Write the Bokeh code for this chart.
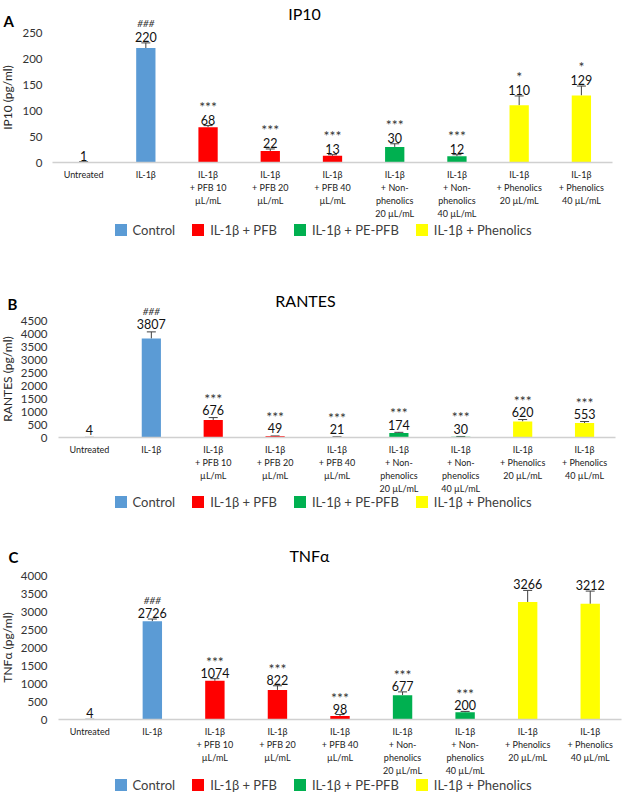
import math
from bokeh.plotting import figure
from bokeh.models import (ColumnDataSource, Range1d, FixedTicker, Whisker,
                          Label, Legend, LegendItem, TeeHead)
from bokeh.layouts import column
from bokeh.embed import file_html
from bokeh.resources import INLINE
from bokeh.core.properties import value

# ---------------- data ----------------
categories = [
    "Untreated",
    "IL-1β",
    "IL-1β\n+ PFB 10\nµL/mL",
    "IL-1β\n+ PFB 20\nµL/mL",
    "IL-1β\n+ PFB 40\nµL/mL",
    "IL-1β\n+ Non-\nphenolics\n20 µL/mL",
    "IL-1β\n+ Non-\nphenolics\n40 µL/mL",
    "IL-1β\n+ Phenolics\n20 µL/mL",
    "IL-1β\n+ Phenolics\n40 µL/mL",
]
group_of_bar = [0, 0, 1, 1, 1, 2, 2, 3, 3]
group_names = ["Control", "IL-1β + PFB", "IL-1β + PE-PFB", "IL-1β + Phenolics"]
group_colors = ["#5B9BD5", "#FF0000", "#00B050", "#FFFF00"]

ip10_values = [1, 220, 68, 22, 13, 30, 12, 110, 129]
ip10_errors = [0.5, 10, 3, 4, 2, 6, 3, 18, 18]
ip10_sig = ["", "###", "***", "***", "***", "***", "***", "*", "*"]
ip10_ticks = [0, 50, 100, 150, 200, 250]

rantes_values = [4, 3807, 676, 49, 21, 174, 30, 620, 553]
rantes_errors = [2, 255, 90, 10, 5, 25, 10, 70, 60]
rantes_sig = ["", "###", "***", "***", "***", "***", "***", "***", "***"]
rantes_ticks = [0, 500, 1000, 1500, 2000, 2500, 3000, 3500, 4000, 4500]

tnf_values = [4, 2726, 1074, 822, 98, 677, 200, 3266, 3212]
tnf_errors = [2, 65, 60, 115, 40, 90, 25, 320, 355]
tnf_sig = ["", "###", "***", "***", "***", "***", "***", "", ""]
tnf_ticks = [0, 500, 1000, 1500, 2000, 2500, 3000, 3500, 4000]

FONT = "Lato"
W = 625
B = 1  # min border


def make_panel(letter, title, ylabel, values, errors, sig, ticks, geo):
    top, height = geo["top"], geo["height"]
    f_top, f_bottom = top + B, top + height - B          # page coords of the frame
    f_left, f_right = B, W - B
    s = (geo["zero_px"] - geo["tick_px"]) / ticks[-1]      # px per unit
    y0 = -(f_bottom - geo["zero_px"]) / s
    y1 = (geo["zero_px"] - f_top) / s
    n = len(categories)
    cw = (geo["x_right"] - geo["x_left"]) / n
    x0 = -0.5 - (geo["x_left"] - f_left) / cw
    x1 = n - 0.5 + (f_right - geo["x_right"]) / cw

    def lx(px):
        return px - f_left

    def ly(py):
        return f_bottom - py

    p = figure(width=W, height=height, output_backend="svg", toolbar_location=None,
               x_range=Range1d(x0, x1), y_range=Range1d(y0, y1),
               min_border_left=B, min_border_right=B, min_border_top=B, min_border_bottom=B)
    p.outline_line_color = None
    p.xgrid.visible = False
    p.ygrid.visible = False

    xs = list(range(n))

    # y axis drawn at the left edge of the first category
    yax = p.yaxis[0]
    yax.fixed_location = -0.5
    yax.ticker = FixedTicker(ticks=ticks)
    yax.axis_line_color = None
    yax.major_tick_line_color = None
    yax.minor_tick_line_color = None
    yax.major_tick_out = 0
    yax.major_tick_in = 0
    yax.major_label_standoff = geo["tick_standoff"]
    yax.major_label_text_font = FONT
    yax.major_label_text_font_size = "11.5px"
    yax.major_label_text_color = "#333333"

    # x axis drawn at y = 0
    xax = p.xaxis[0]
    xax.fixed_location = 0
    xax.bounds = (-0.5, n - 0.5)
    xax.ticker = FixedTicker(ticks=xs)
    xax.major_label_overrides = {i: c for i, c in enumerate(categories)}
    xax.axis_line_color = "#D0D0D0"
    xax.axis_line_width = 1.6
    xax.major_tick_line_color = None
    xax.minor_tick_line_color = None
    xax.major_tick_out = 0
    xax.major_tick_in = 0
    xax.major_label_standoff = 6
    xax.major_label_text_font = FONT
    xax.major_label_text_font_size = "9px"
    xax.major_label_text_line_height = 1.2
    xax.major_label_text_color = "#222222"

    upper = [v + e for v, e in zip(values, errors)]
    src = ColumnDataSource(dict(x=xs, value=values, upper=upper,
                                label=[str(v) for v in values]))

    renderers = []
    for g, gcol in enumerate(group_colors):
        idx = [i for i, gg in enumerate(group_of_bar) if gg == g]
        sub = ColumnDataSource(dict(x=[xs[i] for i in idx], value=[values[i] for i in idx]))
        r = p.vbar(x="x", top="value", width=0.31, source=sub, fill_color=gcol, line_color=None)
        renderers.append(r)

    p.add_layout(Whisker(source=src, base="x", upper="upper", lower="value", dimension="height",
                         line_color="#404040", line_width=1,
                         upper_head=TeeHead(size=9, line_color="#404040", line_width=1),
                         lower_head=None))

    off = geo["label_off"]
    p.text(x="x", y="upper", text="label", source=src, text_font=value(FONT),
           text_font_size="12.5px", text_align="center", text_baseline="alphabetic",
           y_offset=-off, text_color="#111111")

    hash_idx = [i for i, t in enumerate(sig) if t.startswith("#")]
    star_idx = [i for i, t in enumerate(sig) if t.startswith("*")]
    hsrc = ColumnDataSource(dict(x=[xs[i] for i in hash_idx], upper=[upper[i] for i in hash_idx],
                                 sig=[sig[i] for i in hash_idx]))
    ssrc = ColumnDataSource(dict(x=[xs[i] for i in star_idx], upper=[upper[i] for i in star_idx],
                                 sig=[sig[i] for i in star_idx]))
    p.text(x="x", y="upper", text="sig", source=hsrc, text_font=value(FONT),
           text_font_size="10px", text_font_style="italic", text_align="center",
           text_baseline="alphabetic", y_offset=-(off + geo["hash_gap"]), text_color="#333333")
    p.text(x="x", y="upper", text="sig", source=ssrc, text_font=value(FONT),
           text_font_size="14px", text_align="center", text_baseline="alphabetic",
           y_offset=-(off + geo["star_gap"]), text_color="#333333")

    # panel letter, title, y-axis title
    p.add_layout(Label(x=lx(geo["letter"][0]), y=ly(geo["letter"][1]), x_units="screen", y_units="screen",
                       text=letter, text_font=FONT, text_font_size="15px", text_font_style="bold",
                       text_color="black", text_baseline="alphabetic", text_align="left"))
    p.add_layout(Label(x=lx(geo["title"][0]), y=ly(geo["title"][1]), x_units="screen", y_units="screen",
                       text=title, text_font=FONT, text_font_size="16px",
                       text_color="black", text_baseline="alphabetic", text_align="center"))
    p.add_layout(Label(x=lx(7), y=(ticks[0] + ticks[-1]) / 2, x_units="screen", y_units="data",
                       text=ylabel, angle=math.pi / 2, text_font=FONT, text_font_size="12px",
                       text_color="#262626", text_baseline="middle", text_align="center"))

    lg_left, lg_bottom = geo["legend"]
    legend = Legend(items=[LegendItem(label=nm, renderers=[r]) for nm, r in zip(group_names, renderers)],
                    location=(lx(lg_left), ly(lg_bottom)),
                    orientation="horizontal", glyph_width=15, glyph_height=15,
                    label_standoff=5, spacing=15, padding=0, margin=0,
                    border_line_color=None, background_fill_alpha=0,
                    label_text_font=FONT, label_text_font_size="13px",
                    label_text_color="#404040", label_height=15)
    p.add_layout(legend)
    return p


geoA = dict(top=0, height=285, zero_px=162, tick_px=32, x_left=52, x_right=612,
            tick_standoff=10, label_off=6, hash_gap=14, star_gap=13.5,
            letter=(3, 20), title=(304, 13), legend=(112.5, 237.5))
geoB = dict(top=285, height=256, zero_px=437, tick_px=320, x_left=58, x_right=615,
            tick_standoff=11, label_off=7.5, hash_gap=13, star_gap=12,
            letter=(7, 303), title=(305, 300), legend=(112.5, 509.5))
geoC = dict(top=541, height=253, zero_px=719, tick_px=575, x_left=58, x_right=621,
            tick_standoff=11, label_off=6, hash_gap=13, star_gap=11.5,
            letter=(8, 556), title=(309, 555), legend=(112.5, 792.5))

pA = make_panel("A", "IP10", "IP10 (pg/ml)", ip10_values, ip10_errors, ip10_sig, ip10_ticks, geoA)
pB = make_panel("B", "RANTES", "RANTES (pg/ml)", rantes_values, rantes_errors, rantes_sig, rantes_ticks, geoB)
pC = make_panel("C", "TNFα", "TNFα (pg/ml)", tnf_values, tnf_errors, tnf_sig, tnf_ticks, geoC)

layout = column(pA, pB, pC)
open("out.html", "w").write(file_html(layout, INLINE))
